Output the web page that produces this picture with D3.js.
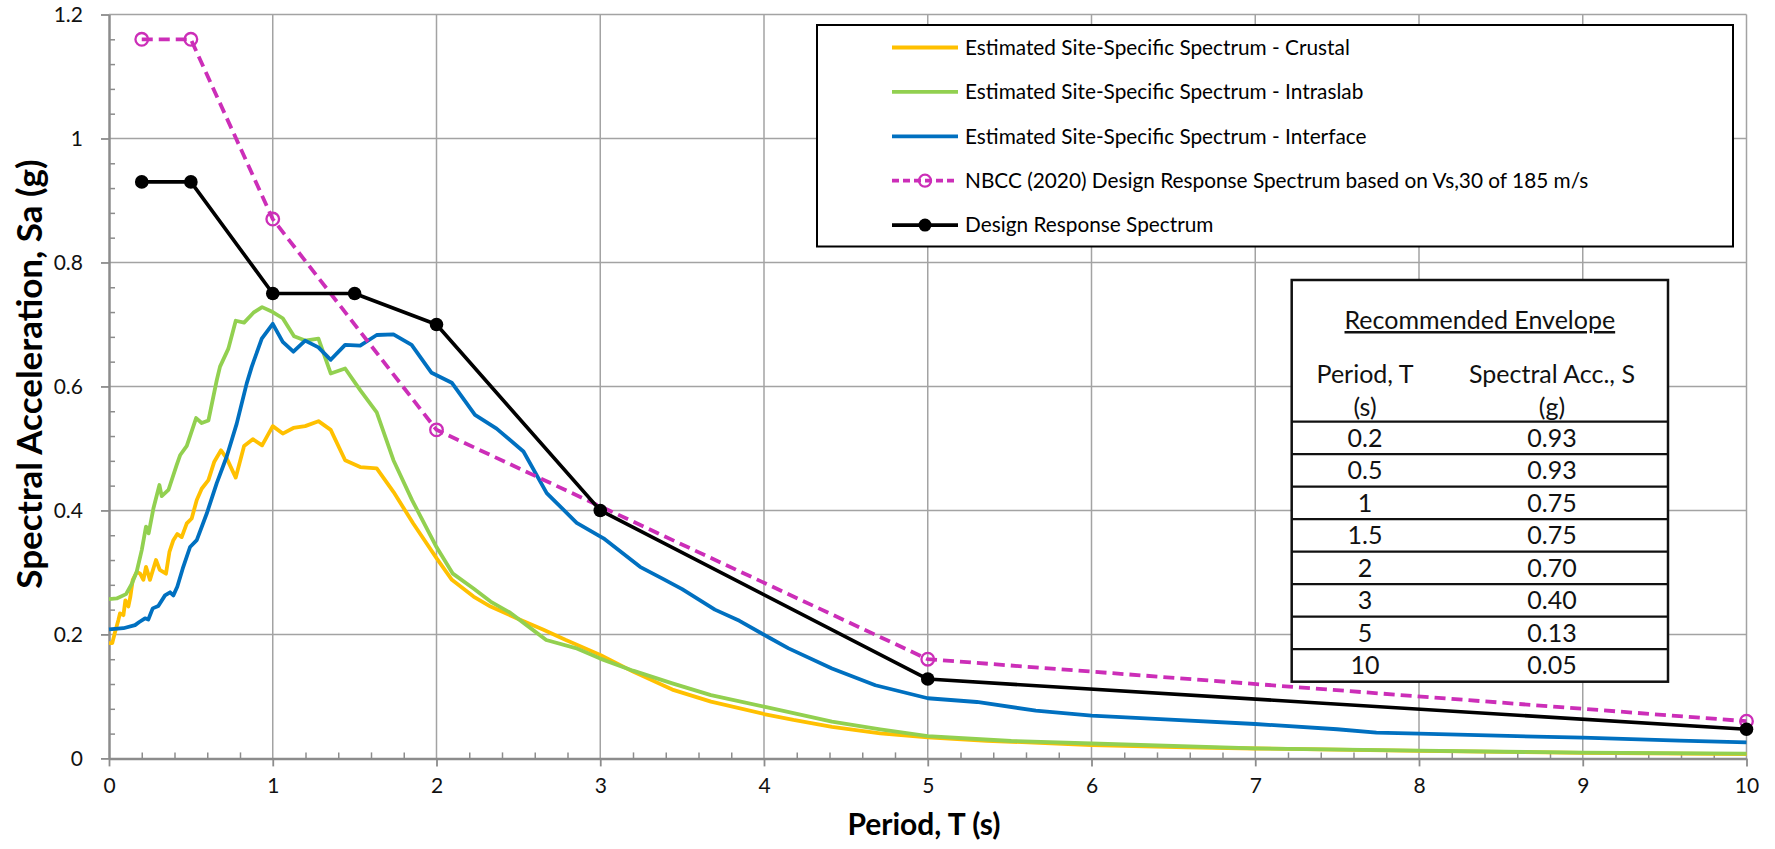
<!DOCTYPE html>
<html><head><meta charset="utf-8">
<script src="https://cdn.jsdelivr.net/npm/d3@7"></script>
<style>
body{margin:0;background:#fff;}
svg{display:block;font-family:Lato,"Open Sans",sans-serif;}
</style></head><body>
<svg id="chart" width="1775" height="849"></svg>
<script>
// ---------------- data ----------------
const crustalT  = [0,0.02,0.037,0.057,0.067,0.088,0.10,0.118,0.13,0.145,0.17,0.19,0.21,0.226,0.25,0.287,0.31,0.348,0.369,0.393,0.417,0.444,0.475,0.505,0.536,0.566,0.607,0.642,0.684,0.719,0.774,0.825,0.878,0.935,1.0,1.061,1.126,1.198,1.279,1.354,1.442,1.534,1.635,1.737,1.858,2.0,2.094,2.226,2.33,2.5,2.65,2.79,3.0,3.2,3.44,3.676,4.0,4.18,4.415,4.71,5.0,5.36,6.0,6.58,7.0,8.0,9.0,10];
const crustalSa = [0.186,0.186,0.204,0.223,0.234,0.231,0.255,0.245,0.26,0.288,0.301,0.298,0.288,0.309,0.288,0.32,0.304,0.298,0.333,0.352,0.362,0.357,0.379,0.387,0.417,0.435,0.449,0.478,0.497,0.484,0.453,0.504,0.515,0.505,0.536,0.524,0.533,0.536,0.544,0.53,0.481,0.470,0.468,0.430,0.379,0.323,0.288,0.261,0.245,0.225,0.208,0.191,0.167,0.14,0.111,0.0915,0.0716,0.062,0.051,0.0405,0.034,0.0285,0.0216,0.0178,0.016,0.0122,0.009,0.007];

const intraslabT  = [0,0.047,0.104,0.138,0.169,0.2,0.226,0.242,0.271,0.308,0.322,0.363,0.413,0.434,0.475,0.532,0.566,0.607,0.658,0.678,0.729,0.774,0.825,0.882,0.935,1.0,1.061,1.13,1.198,1.279,1.354,1.442,1.534,1.635,1.737,1.85,2.0,2.1,2.226,2.33,2.45,2.55,2.67,2.85,3.0,3.2,3.44,3.676,4.0,4.415,4.71,5.0,5.51,6.0,7.0,8.0,9.0,10];
const intraslabSa = [0.257,0.258,0.265,0.281,0.301,0.336,0.374,0.363,0.403,0.441,0.423,0.433,0.473,0.489,0.504,0.549,0.541,0.545,0.61,0.632,0.661,0.706,0.703,0.719,0.728,0.72,0.710,0.681,0.674,0.677,0.621,0.629,0.594,0.558,0.481,0.417,0.341,0.298,0.274,0.253,0.235,0.215,0.191,0.178,0.161,0.1415,0.121,0.102,0.0835,0.0593,0.0469,0.036,0.0281,0.024,0.0162,0.0125,0.0092,0.0077];

const interfaceT  = [0,0.088,0.159,0.185,0.22,0.24,0.267,0.301,0.342,0.373,0.393,0.417,0.45,0.495,0.536,0.597,0.658,0.719,0.78,0.841,0.872,0.933,1.0,1.061,1.126,1.198,1.279,1.354,1.442,1.534,1.635,1.737,1.848,1.97,2.093,2.235,2.367,2.531,2.673,2.856,3.02,3.243,3.38,3.5,3.7,3.85,4.03,4.15,4.415,4.68,5.0,5.3,5.66,6.0,6.45,7.0,7.5,7.74,8.0,8.54,9.0,9.59,10];
const interfaceSa = [0.208,0.21,0.215,0.22,0.226,0.224,0.242,0.246,0.263,0.268,0.263,0.277,0.306,0.341,0.352,0.395,0.444,0.487,0.54,0.605,0.632,0.677,0.701,0.672,0.656,0.674,0.663,0.643,0.667,0.666,0.683,0.684,0.667,0.622,0.606,0.554,0.532,0.495,0.428,0.380,0.355,0.309,0.29,0.273,0.24,0.222,0.195,0.1775,0.145,0.118,0.097,0.091,0.077,0.069,0.063,0.0555,0.047,0.0415,0.040,0.0362,0.0334,0.0286,0.026];

const nbccT  = [0.2,0.5,1,2,5,10];
const nbccSa = [1.16,1.16,0.87,0.53,0.16,0.06];

const designT  = [0.2,0.5,1,1.5,2,3,5,10];
const designSa = [0.93,0.93,0.75,0.75,0.70,0.40,0.128,0.047];

const seriesNames = [
  "Estimated Site-Specific Spectrum - Crustal",
  "Estimated Site-Specific Spectrum - Intraslab",
  "Estimated Site-Specific Spectrum - Interface",
  "NBCC (2020) Design Response Spectrum based on Vs,30 of 185 m/s",
  "Design Response Spectrum"
];

const xTickValues = [0,1,2,3,4,5,6,7,8,9,10];
const yTickValues = [0,0.2,0.4,0.6,0.8,1,1.2];
const yTickLabels = ["0","0.2","0.4","0.6","0.8","1","1.2"];

const tableTitle = "Recommended Envelope";
const tableHeadPeriod = ["Period, T","(s)"];
const tableHeadSa = ["Spectral Acc., S","(g)"];
const envelopePeriods = ["0.2","0.5","1","1.5","2","3","5","10"];
const envelopeSa = ["0.93","0.93","0.75","0.75","0.70","0.40","0.13","0.05"];

// ---------------- chart ----------------
const svg = d3.select("#chart");
const x = d3.scaleLinear().domain([0,10]).range([109,1746.5]);
const y = d3.scaleLinear().domain([0,1.2]).range([758.4,14.5]);

const gridColor = "#a3a3a3", axisColor = "#8c8c8c", textColor = "#111";

// gridlines
const grid = svg.append("g");
grid.selectAll("line.vx").data(xTickValues.slice(1)).join("line")
  .attr("x1",d=>x(d)).attr("x2",d=>x(d)).attr("y1",y(0)).attr("y2",y(1.2))
  .attr("stroke",gridColor).attr("stroke-width",1.5);
grid.selectAll("line.hy").data(yTickValues.slice(1)).join("line")
  .attr("x1",x(0)).attr("x2",x(10)).attr("y1",d=>y(d)).attr("y2",d=>y(d))
  .attr("stroke",gridColor).attr("stroke-width",1.5);

// minor ticks (inside)
const xMinor = d3.range(0,10.001,0.2).filter(v=>Math.abs(v-Math.round(v))>1e-6);
const yMinor = d3.range(0,1.2001,0.04).filter(v=>Math.abs(v/0.2-Math.round(v/0.2))>1e-6);
svg.append("g").attr("transform",`translate(0,${y(0)})`)
  .call(d3.axisBottom(x).tickValues(xMinor).tickSize(-6).tickSizeOuter(0).tickFormat(""))
  .call(g=>g.select(".domain").remove())
  .call(g=>g.selectAll("line").attr("stroke",axisColor).attr("stroke-width",1.5));
svg.append("g").attr("transform",`translate(${x(0)},0)`)
  .call(d3.axisLeft(y).tickValues(yMinor).tickSize(-6).tickSizeOuter(0).tickFormat(""))
  .call(g=>g.select(".domain").remove())
  .call(g=>g.selectAll("line").attr("stroke",axisColor).attr("stroke-width",1.5));

// major axes
const xAxis = svg.append("g").attr("transform",`translate(0,${y(0)})`)
  .call(d3.axisBottom(x).tickValues(xTickValues).tickSize(8).tickSizeOuter(0).tickPadding(12).tickFormat(d=>String(d)));
const yAxis = svg.append("g").attr("transform",`translate(${x(0)},0)`)
  .call(d3.axisLeft(y).tickValues(yTickValues).tickSize(8).tickSizeOuter(0).tickPadding(18).tickFormat((d,i)=>yTickLabels[i]));
[xAxis,yAxis].forEach(a=>{
  a.select(".domain").attr("stroke",axisColor).attr("stroke-width",2.5);
  a.selectAll(".tick line").attr("stroke",axisColor).attr("stroke-width",1.8);
  a.selectAll(".tick text").attr("fill",textColor).style("font-size","21px").style("font-family","Lato");
});

// series lines
const line = d3.line().x(d=>x(d[0])).y(d=>y(d[1]));
const zip = (a,b)=>a.map((v,i)=>[v,b[i]]);
const colored = [
  {T:crustalT, S:crustalSa, color:"#FFC000"},
  {T:intraslabT, S:intraslabSa, color:"#92D050"},
  {T:interfaceT, S:interfaceSa, color:"#0070C0"}
];
colored.forEach(s=>{
  svg.append("path").datum(zip(s.T,s.S)).attr("d",line)
    .attr("fill","none").attr("stroke",s.color).attr("stroke-width",3.8)
    .attr("stroke-linejoin","round");
});
const magenta = "#CC2EB8";
const nbcc = zip(nbccT,nbccSa);
svg.append("path").datum(nbcc).attr("d",line).attr("fill","none")
  .attr("stroke",magenta).attr("stroke-width",3.8).attr("stroke-dasharray","11,6");
svg.selectAll("circle.nbcc").data(nbcc).join("circle")
  .attr("cx",d=>x(d[0])).attr("cy",d=>y(d[1])).attr("r",6.3)
  .attr("fill","none").attr("stroke",magenta).attr("stroke-width",2.3);
const design = zip(designT,designSa);
svg.append("path").datum(design).attr("d",line).attr("fill","none")
  .attr("stroke","#000").attr("stroke-width",3.6).attr("stroke-linejoin","round");
svg.selectAll("circle.des").data(design).join("circle")
  .attr("cx",d=>x(d[0])).attr("cy",d=>y(d[1])).attr("r",6.8).attr("fill","#000");

// axis titles
svg.append("text").attr("x",924).attr("y",835).attr("text-anchor","middle")
  .attr("font-weight","bold").style("font-size","30px").attr("fill","#000").text("Period, T (s)");
svg.append("text").attr("transform","translate(42,374) rotate(-90)").attr("text-anchor","middle")
  .attr("font-weight","bold").style("font-size","35px").attr("fill","#000").text("Spectral Acceleration, Sa (g)");

// legend
const lg = svg.append("g");
lg.append("rect").attr("x",817).attr("y",25).attr("width",916).attr("height",221.5)
  .attr("fill","#fff").attr("stroke","#000").attr("stroke-width",2);
const legendColors = ["#FFC000","#92D050","#0070C0",magenta,"#000"];
seriesNames.forEach((name,i)=>{
  const cy = 47.5 + i*44.4;
  const g = lg.append("g");
  const ln = g.append("line").attr("x1",892).attr("x2",958).attr("y1",cy).attr("y2",cy)
    .attr("stroke",legendColors[i]).attr("stroke-width",i===4?3.6:3.8);
  if(i===3){
    ln.attr("stroke-dasharray","7,4");
    g.append("circle").attr("cx",925).attr("cy",cy).attr("r",6).attr("fill","none").attr("stroke",magenta).attr("stroke-width",2.3);
  }
  if(i===4) g.append("circle").attr("cx",925).attr("cy",cy).attr("r",6.5).attr("fill","#000");
  g.append("text").attr("x",965).attr("y",cy).attr("dy","0.35em").style("font-size","20.8px").attr("fill","#000").text(name);
});

// table
const tb = svg.append("g");
const tx0 = 1291.7, tx1 = 1668, ty0 = 280, rowTop = 421.7, rowH = 32.5;
tb.append("rect").attr("x",tx0).attr("y",ty0).attr("width",tx1-tx0).attr("height",rowTop+rowH*envelopePeriods.length-ty0)
  .attr("fill","#fff").attr("stroke","#111").attr("stroke-width",2.5);
const colP = 1365, colS = 1552, tfs = "25px";
tb.append("text").attr("x",(tx0+tx1)/2).attr("y",329).attr("text-anchor","middle")
  .style("font-size",tfs).style("text-decoration","underline").attr("fill",textColor).text(tableTitle);
tableHeadPeriod.forEach((t,i)=>tb.append("text").attr("x",colP).attr("y",383+i*33).attr("text-anchor","middle").style("font-size",tfs).attr("fill",textColor).text(t));
tableHeadSa.forEach((t,i)=>tb.append("text").attr("x",colS).attr("y",383+i*33).attr("text-anchor","middle").style("font-size",tfs).attr("fill",textColor).text(t));
envelopePeriods.forEach((p,i)=>{
  const top = rowTop + i*rowH;
  tb.append("line").attr("x1",tx0).attr("x2",tx1).attr("y1",top).attr("y2",top).attr("stroke","#111").attr("stroke-width",2.2);
  tb.append("text").attr("x",colP).attr("y",top+25).attr("text-anchor","middle").style("font-size",tfs).attr("fill",textColor).text(p);
  tb.append("text").attr("x",colS).attr("y",top+25).attr("text-anchor","middle").style("font-size",tfs).attr("fill",textColor).text(envelopeSa[i]);
});
</script>
</body></html>
